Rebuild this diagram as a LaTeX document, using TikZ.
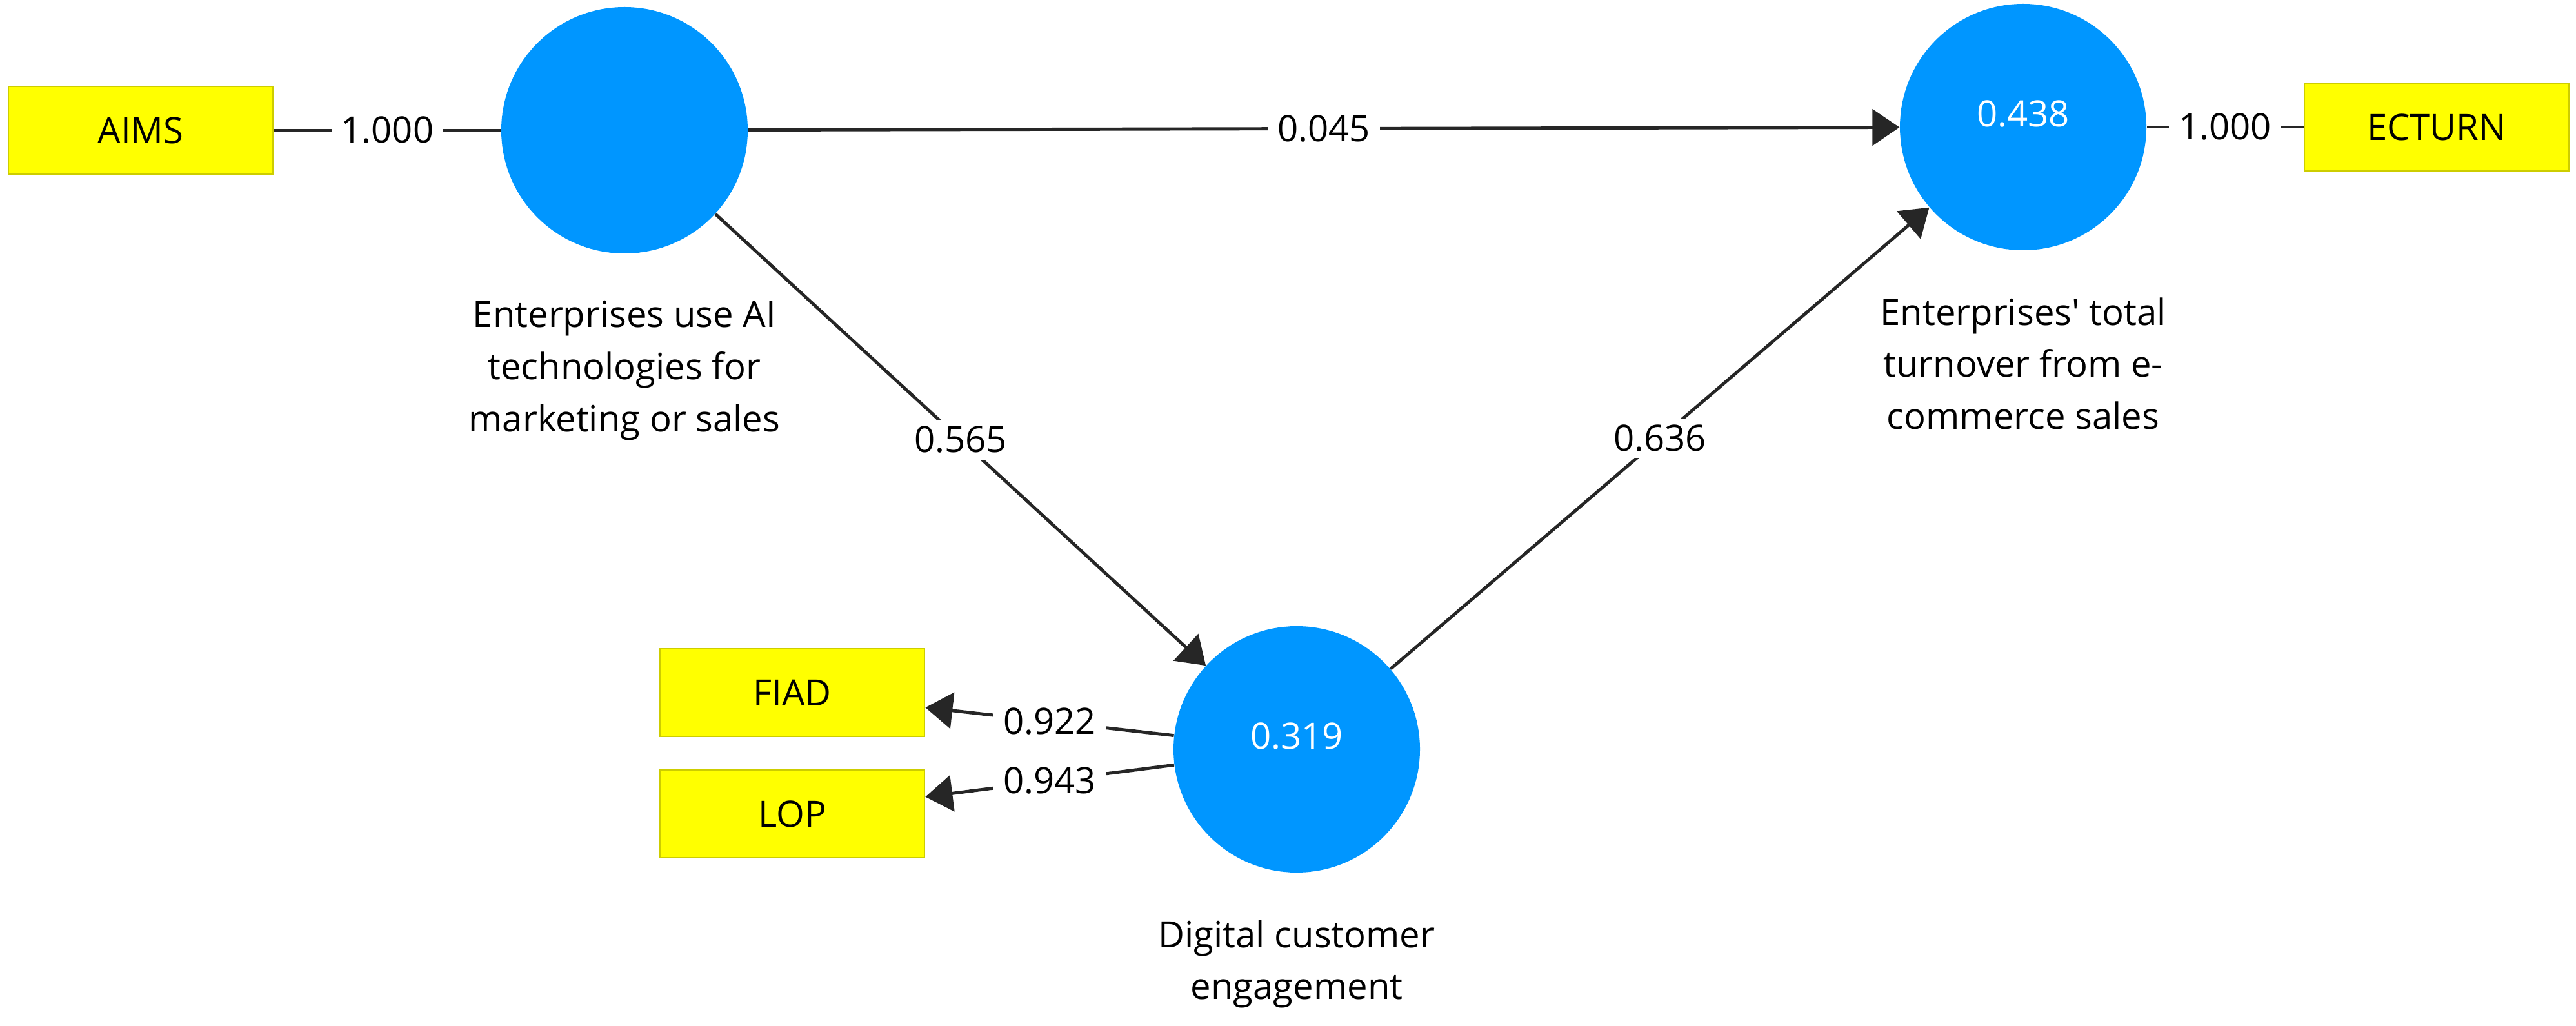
\documentclass[tikz,border=0pt]{standalone}
\usepackage{fontspec}
\setmainfont{Open Sans}
\usetikzlibrary{positioning,arrows.meta}
\definecolor{lvblue}{RGB}{0,150,255}
\definecolor{mvyellow}{RGB}{255,255,0}
\definecolor{mvborder}{RGB}{205,205,0}
\begin{document}
\begin{tikzpicture}
	\tikzset{every node/.style = {font=\fontsize{16pt}{23pt}\selectfont}}
	\tikzset{latent/.style = {shape=circle, fill=lvblue, text=white, minimum size=3.82cm, inner sep=0pt, text depth=0.42cm}}
	\tikzset{manifest/.style = {shape=rectangle, fill=mvyellow, draw=mvborder, line width=0.8pt, minimum width=4.1cm, minimum height=1.36cm}}
	\tikzset{caption/.style = {align=center, inner sep=0pt}}
	\tikzset{link/.style = {draw=black!85, line width=1.4pt}}
	\tikzset{edge/.style = {link, -{Triangle[length=0.42cm, width=0.56cm]}}}
	\tikzset{coef/.style = {midway, fill=white, inner xsep=0.15cm, inner ysep=0.1cm}}
	\useasboundingbox (0,0) rectangle (39.93,15.90);
	% Draw constructs
	\node[latent] (AI)  at ( 9.68,13.88) {};
	\node[latent] (ECT) at (31.36,13.93) {0.438};
	\node[latent] (DCE) at (20.10, 4.28) {0.319};
	\node[caption, below=0.72cm of AI]  (AIlab)  {Enterprises use AI\\technologies for\\marketing or sales};
	\node[caption, below=0.72cm of ECT] (ECTlab) {Enterprises\textquotesingle{} total\\turnover from e-\\commerce sales};
	\node[caption, below=0.72cm of DCE] (DCElab) {Digital customer\\engagement};
	% Draw indicators
	\node[manifest] (AIMS)   at ( 2.18,13.88) {AIMS};
	\node[manifest] (ECTURN) at (37.77,13.93) {ECTURN};
	\node[manifest] (FIAD)   at (12.28, 5.16) {FIAD};
	\node[manifest] (LOP)    at (12.28, 3.28) {LOP};
	% Draw paths
	\draw[link] (AIMS) to node[coef] {1.000} (AI);
	\draw[link] (ECT) to node[coef] {1.000} (ECTURN);
	\draw[edge] (AI) to node[coef] {0.045} (ECT);
	\draw[edge] (AI) to node[coef] {0.565} (DCE);
	\draw[edge] (DCE) to node[coef] {0.636} (ECT);
	\draw[edge] (DCE) to node[coef] {0.922} (FIAD);
	\draw[edge] (DCE) to node[coef] {0.943} (LOP);
\end{tikzpicture}
\end{document}
